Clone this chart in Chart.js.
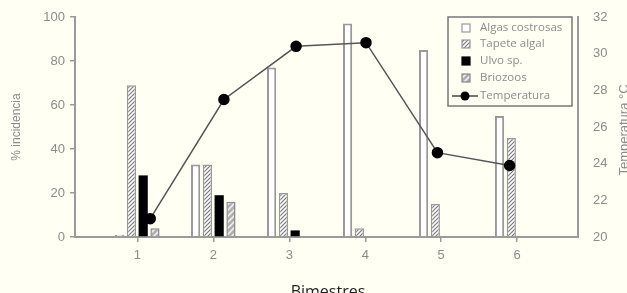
<!DOCTYPE html>
<html>
<head>
<meta charset="utf-8">
<script src="https://cdn.jsdelivr.net/npm/chart.js@4/dist/chart.umd.min.js"></script>
<style>
  html, body { margin: 0; padding: 0; background: #fffff4; }
  canvas { display: block; }
</style>
</head>
<body>
<canvas id="incidencia" width="627" height="293"></canvas>
<script>
// values
const bimestres = [1, 2, 3, 4, 5, 6];
const algasCostrosas = [1, 33, 77, 97, 85, 55];
const tapeteAlgal = [69, 33, 20, 4, 15, 45];
const ulvoSp = [28, 19, 3, 0, 0, 0];
const briozoos = [4, 16, 0, 0, 0, 0];
const temperatura = [21.0, 27.5, 30.4, 30.6, 24.6, 23.9];
const tempX = [1.17, 2.14, 3.09, 4.01, 4.95, 5.9];
const leftTicks = [0, 20, 40, 60, 80, 100];
const rightTicks = [20, 22, 24, 26, 28, 30, 32];

const grey = '#8c8c8c';
const axisGrey = '#9a9a9a';

function hatch(size, bg, fg, width) {
    const c = document.createElement('canvas');
    c.width = size; c.height = size;
    const g = c.getContext('2d');
    g.fillStyle = bg;
    g.fillRect(0, 0, size, size);
    g.strokeStyle = fg;
    g.lineWidth = width;
    g.beginPath();
    g.moveTo(-1, size + 1); g.lineTo(size + 1, -1);
    g.moveTo(-1, 1); g.lineTo(1, -1);
    g.moveTo(size - 1, size + 1); g.lineTo(size + 1, size - 1);
    g.stroke();
    return g.createPattern(c, 'repeat');
}

const ctx = document.getElementById('incidencia').getContext('2d');
const tapetePattern = hatch(4, '#ffffff', '#7a7a7a', 1.2);
const briozooPattern = hatch(6, '#b0b0b0', '#f4f4f4', 1.5);

const toXY = (vals, xs) => vals.map((v, i) => ({ x: xs[i], y: v }));

const overlay = {
    id: 'overlay',
    beforeDraw(chart) {
        const c = chart.ctx;
        c.save();
        c.fillStyle = '#fffff4';
        c.fillRect(0, 0, chart.width, chart.height);
        c.restore();
    },
    afterDraw(chart) {
        const c = chart.ctx;
        c.save();
        // axis titles
        c.fillStyle = grey;
        c.font = '12px "Liberation Sans", Arial, sans-serif';
        c.textAlign = 'center';
        c.textBaseline = 'middle';
        c.save();
        c.translate(17, 127);
        c.rotate(-Math.PI / 2);
        c.fillText('% incidencia', 0, 0);
        c.restore();
        c.save();
        c.font = '13px "Liberation Sans", Arial, sans-serif';
        c.translate(624, 130);
        c.rotate(-Math.PI / 2);
        c.fillText('Temperatura °C', 0, 0);
        c.restore();
        c.fillStyle = '#222';
        c.font = '16px "Open Sans", sans-serif';
        c.fillText('Bimestres', 328, 292);

        // legend box
        const lx = 448, ly = 17, lw = 124, lh = 89;
        c.strokeStyle = '#777';
        c.lineWidth = 1.5;
        c.strokeRect(lx, ly, lw, lh);
        const rows = [28, 44, 61, 78, 96];
        c.font = '11.5px "Open Sans", sans-serif';
        c.textAlign = 'left';
        chart.data.datasets.forEach((ds, i) => {
            const y = rows[i];
            if (ds.type === 'line') {
                c.strokeStyle = '#444';
                c.lineWidth = 1.5;
                c.beginPath(); c.moveTo(452, y); c.lineTo(478, y); c.stroke();
                c.fillStyle = '#000';
                c.beginPath(); c.arc(465, y, 4.5, 0, Math.PI * 2); c.fill();
            } else {
                c.fillStyle = ds.backgroundColor;
                c.fillRect(462, y - 4, 8, 8);
                c.strokeStyle = ds.borderColor;
                c.lineWidth = 1.2;
                c.strokeRect(462, y - 4, 8, 8);
            }
            c.fillStyle = grey;
            c.fillText(ds.label, 480, y);
        });
        c.restore();
    }
};

new Chart(ctx, {
    type: 'bar',
    data: {
        datasets: [
            {
                label: 'Algas costrosas',
                data: toXY(algasCostrosas, bimestres),
                backgroundColor: '#ffffff',
                borderColor: '#999999',
                borderWidth: 2,
                order: 1,
            },
            {
                label: 'Tapete algal',
                data: toXY(tapeteAlgal, bimestres),
                backgroundColor: tapetePattern,
                borderColor: '#999999',
                borderWidth: 1.5,
                order: 1,
            },
            {
                label: 'Ulvo sp.',
                data: toXY(ulvoSp, bimestres),
                backgroundColor: '#000000',
                borderColor: '#000000',
                borderWidth: 0,
                order: 1,
            },
            {
                label: 'Briozoos',
                data: toXY(briozoos, bimestres),
                backgroundColor: briozooPattern,
                borderColor: '#888888',
                borderWidth: 1.5,
                order: 1,
            },
            {
                type: 'line',
                label: 'Temperatura',
                data: toXY(temperatura, tempX),
                yAxisID: 'y2',
                borderColor: '#555555',
                borderWidth: 1.5,
                pointRadius: 5,
                pointBackgroundColor: '#000000',
                pointBorderColor: '#000000',
                tension: 0,
                order: 0,
            }
        ]
    },
    options: {
        responsive: false,
        animation: false,
        devicePixelRatio: 1,
        layout: { padding: { top: 17, left: 0, right: 0, bottom: 0 } },
        categoryPercentage: 0.62,
        barPercentage: 0.78,
        scales: {
            x: {
                type: 'linear',
                offset: false,
                min: 0.18,
                max: 6.8,
                afterBuildTicks: (s) => { s.ticks = bimestres.map(v => ({ value: v })); },
                afterFit: (s) => { s.height = 56; },
                grid: { display: true, offset: false, drawOnChartArea: false, drawTicks: true, tickLength: 5, color: axisGrey, lineWidth: 1.5 },
                border: { display: true, color: axisGrey, width: 2 },
                ticks: { color: grey, font: { size: 13, family: '"Liberation Sans", Arial, sans-serif' }, padding: 6 }
            },
            y: {
                position: 'left',
                min: 0,
                max: 100,
                afterBuildTicks: (s) => { s.ticks = leftTicks.map(v => ({ value: v })); },
                afterFit: (s) => { s.width = 75; },
                grid: { display: true, drawOnChartArea: false, drawTicks: true, tickLength: 5, color: axisGrey, lineWidth: 1.5 },
                border: { display: true, color: axisGrey, width: 2 },
                ticks: { color: grey, font: { size: 13, family: '"Liberation Sans", Arial, sans-serif' }, padding: 5 }
            },
            y2: {
                position: 'right',
                min: 20,
                max: 32,
                afterBuildTicks: (s) => { s.ticks = rightTicks.map(v => ({ value: v })); },
                afterFit: (s) => { s.width = 49; },
                grid: { display: false, drawOnChartArea: false },
                border: { display: true, color: axisGrey, width: 2 },
                ticks: { color: grey, font: { size: 13, family: '"Liberation Sans", Arial, sans-serif' }, padding: 7 }
            }
        },
        plugins: {
            legend: { display: false },
            tooltip: { enabled: false }
        }
    },
    plugins: [overlay]
});
</script>
</body>
</html>
